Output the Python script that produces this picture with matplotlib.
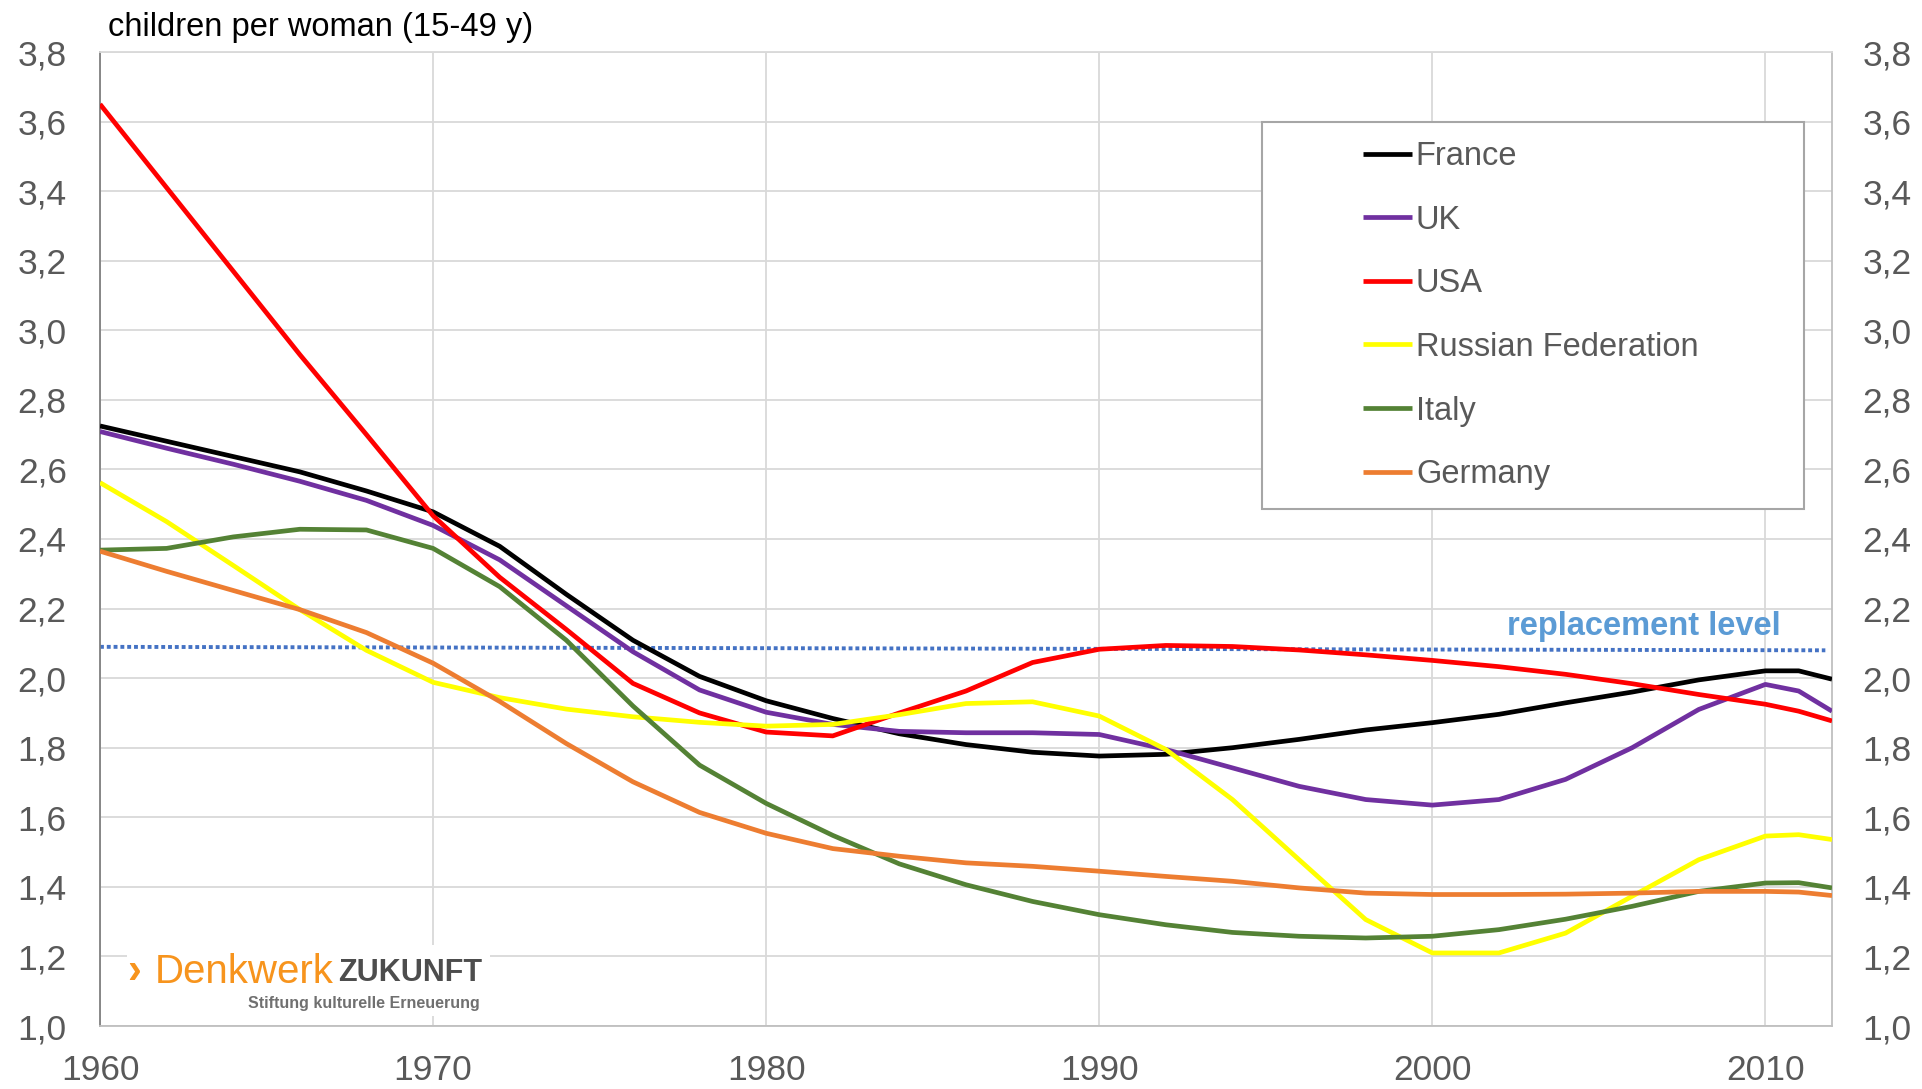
import matplotlib
matplotlib.use("Agg")
import matplotlib.pyplot as plt
from matplotlib.patches import Rectangle
from matplotlib.ticker import FuncFormatter

plt.rcParams["font.family"] = ["Liberation Sans", "DejaVu Sans"]

W, H = 1922, 1089

years = [1960, 1962, 1964, 1966, 1968, 1970, 1972, 1974, 1976, 1978,
         1980, 1982, 1984, 1986, 1988, 1990, 1992, 1994, 1996, 1998,
         2000, 2002, 2004, 2006, 2008, 2010, 2011, 2012]

france = [2.725, 2.681, 2.637, 2.593, 2.538, 2.478, 2.379, 2.241, 2.109, 2.005,
          1.935, 1.884, 1.840, 1.809, 1.787, 1.776, 1.781, 1.800, 1.824, 1.851,
          1.872, 1.896, 1.929, 1.960, 1.995, 2.021, 2.021, 1.997]
uk = [2.709, 2.661, 2.615, 2.566, 2.511, 2.439, 2.340, 2.208, 2.076, 1.966,
      1.902, 1.867, 1.847, 1.843, 1.843, 1.838, 1.795, 1.742, 1.689, 1.651,
      1.635, 1.651, 1.709, 1.800, 1.910, 1.982, 1.963, 1.905]
usa = [3.65, 3.41, 3.17, 2.93, 2.70, 2.467, 2.290, 2.140, 1.985, 1.900,
       1.845, 1.834, 1.900, 1.963, 2.045, 2.083, 2.094, 2.091, 2.081, 2.067,
       2.051, 2.033, 2.011, 1.984, 1.953, 1.925, 1.905, 1.877]
russia = [2.562, 2.450, 2.324, 2.197, 2.080, 1.988, 1.944, 1.911, 1.889, 1.873,
          1.862, 1.867, 1.895, 1.927, 1.932, 1.891, 1.795, 1.651, 1.478, 1.306,
          1.210, 1.210, 1.267, 1.373, 1.478, 1.546, 1.550, 1.536]
italy = [2.368, 2.373, 2.406, 2.428, 2.426, 2.373, 2.263, 2.109, 1.920, 1.750,
         1.640, 1.548, 1.466, 1.406, 1.358, 1.320, 1.291, 1.269, 1.258, 1.253,
         1.258, 1.277, 1.307, 1.344, 1.387, 1.411, 1.412, 1.397]
germany = [2.365, 2.307, 2.252, 2.197, 2.131, 2.043, 1.933, 1.812, 1.702, 1.614,
           1.554, 1.510, 1.488, 1.469, 1.459, 1.445, 1.430, 1.416, 1.397, 1.382,
           1.378, 1.378, 1.379, 1.382, 1.387, 1.387, 1.385, 1.375]

rep_years = [1960, 2011.8]
rep_values = [2.09, 2.08]

series = [
    ("France", france, "#000000"),
    ("UK", uk, "#7030A0"),
    ("USA", usa, "#FF0000"),
    ("Russian Federation", russia, "#FFFF00"),
    ("Italy", italy, "#548235"),
    ("Germany", germany, "#ED7D31"),
]


def fx(px):
    return px / W


def fy(py):
    return 1 - py / H


fig = plt.figure(figsize=(W / 100, H / 100), dpi=100)
ax = fig.add_axes([fx(100), fy(1026), fx(1832) - fx(100), fy(52) - fy(1026)])

for name, vals, col in series:
    ax.plot(years, vals, color=col, lw=3.4, label=name, zorder=3,
            solid_joinstyle="round", solid_capstyle="butt")

ax.plot(rep_years, rep_values, color="#4472C4", lw=2.8,
        linestyle=(0, (1, 0.75)), dash_capstyle="butt", zorder=2.5)

ax.set_xlim(1960, 2012)
ax.set_ylim(1.0, 3.8)
yt = [1.0 + 0.2 * i for i in range(15)]
ax.set_xticks(range(1960, 2011, 10))
ax.set_yticks(yt)
fmt = FuncFormatter(lambda v, p: f"{v:.1f}".replace(".", ","))
ax.yaxis.set_major_formatter(fmt)
ax.grid(True, color="#D9D9D9", lw=1.3)
ax.set_axisbelow(True)
ax.tick_params(length=0, labelsize=25.5, labelcolor="#595959")
ax.tick_params(axis="y", pad=24)
ax.tick_params(axis="x", pad=20)
ax.spines["left"].set_color("#808080")
ax.spines["bottom"].set_color("#BFBFBF")
ax.spines["right"].set_color("#BFBFBF")
ax.spines["top"].set_color("#D9D9D9")
for s in ax.spines.values():
    s.set_linewidth(1.3)

ax2 = ax.twinx()
ax2.set_ylim(1.0, 3.8)
ax2.set_yticks(yt)
ax2.yaxis.set_major_formatter(fmt)
ax2.tick_params(length=0, labelsize=25.5, labelcolor="#595959", pad=22)
for s in ax2.spines.values():
    s.set_visible(False)

# title
fig.text(fx(108), fy(36), "children per woman (15-49 y)", fontsize=23.5,
         color="#000000", ha="left", va="baseline")

# replacement level label
fig.text(fx(1507), fy(635), "replacement level", fontsize=23.5,
         fontweight="bold", color="#5B9BD5", ha="left", va="baseline")

# legend box
fig.add_artist(Rectangle((fx(1262), fy(509)), fx(1804) - fx(1262),
                         fy(122) - fy(509), transform=fig.transFigure,
                         facecolor="white", edgecolor="#A6A6A6", lw=1.5,
                         zorder=5))
leg = fig.legend(loc="upper left", bbox_to_anchor=(fx(1363), fy(141)),
                 frameon=False, fontsize=23.5, handlelength=1.5,
                 handletextpad=0.12, labelspacing=1.0, borderpad=0,
                 borderaxespad=0)
leg.set_zorder(6)
for t in leg.get_texts():
    t.set_color("#595959")

# logo
fig.add_artist(Rectangle((fx(127), fy(1016)), fx(490) - fx(127),
                         fy(945) - fy(1016), transform=fig.transFigure,
                         facecolor="white", edgecolor="none", zorder=1))
fig.text(fx(127), fy(983), "\u203a", fontsize=30, fontweight="bold",
         color="#F7941D", ha="left", va="baseline", zorder=2)
fig.text(fx(155), fy(983), "Denkwerk", fontsize=29, color="#F7941D",
         ha="left", va="baseline", zorder=2)
fig.text(fx(482), fy(981), "ZUKUNFT", fontsize=22, fontweight="bold",
         color="#4D4D4D", ha="right", va="baseline", zorder=2)
fig.text(fx(480), fy(1008), "Stiftung kulturelle Erneuerung", fontsize=11.5,
         fontweight="bold", color="#707070", ha="right", va="baseline",
         zorder=2)

fig.savefig("out.png", dpi=100)
